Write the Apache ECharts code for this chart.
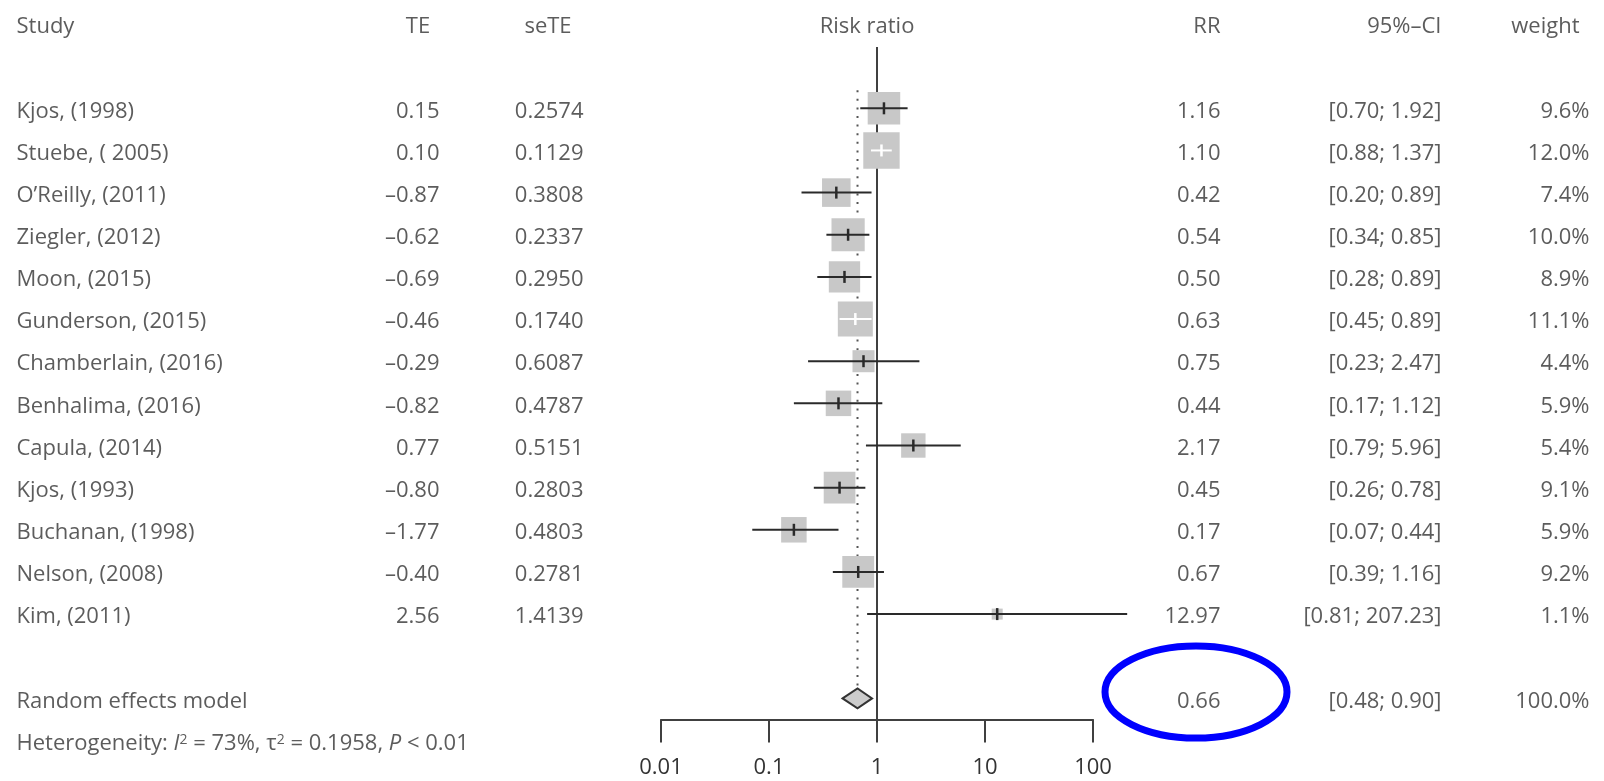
<!DOCTYPE html>
<html>
<head>
<meta charset="utf-8">
<script src="https://cdn.jsdelivr.net/npm/echarts@6/dist/echarts.min.js"></script>
<style>
html,body{margin:0;padding:0;background:#ffffff;}
#c{width:1604px;height:781px;}
</style>
</head>
<body>
<div id="c"></div>
<script>
// ---------------- data ----------------
const studies = ["Kjos, (1998)", "Stuebe, ( 2005)", "O\u2019Reilly, (2011)", "Ziegler, (2012)", "Moon, (2015)",
  "Gunderson, (2015)", "Chamberlain, (2016)", "Benhalima, (2016)", "Capula, (2014)", "Kjos, (1993)",
  "Buchanan, (1998)", "Nelson, (2008)", "Kim, (2011)"];
const TE = [0.15, 0.10, -0.87, -0.62, -0.69, -0.46, -0.29, -0.82, 0.77, -0.80, -1.77, -0.40, 2.56];
const seTE = [0.2574, 0.1129, 0.3808, 0.2337, 0.2950, 0.1740, 0.6087, 0.4787, 0.5151, 0.2803, 0.4803, 0.2781, 1.4139];
const RR = [1.16, 1.10, 0.42, 0.54, 0.50, 0.63, 0.75, 0.44, 2.17, 0.45, 0.17, 0.67, 12.97];
const ciLow = [0.70, 0.88, 0.20, 0.34, 0.28, 0.45, 0.23, 0.17, 0.79, 0.26, 0.07, 0.39, 0.81];
const ciHigh = [1.92, 1.37, 0.89, 0.85, 0.89, 0.89, 2.47, 1.12, 5.96, 0.78, 0.44, 1.16, 207.23];
const weight = [9.6, 12.0, 7.4, 10.0, 8.9, 11.1, 4.4, 5.9, 5.4, 9.1, 5.9, 9.2, 1.1];

const pooledLabel = "Random effects model";
const pooledRR = 0.66;
const pooledLow = 0.48;
const pooledHigh = 0.90;
const pooledWeight = 100.0;

const hetI2 = "73%";
const hetTau2 = "0.1958";
const hetP = "< 0.01";

const tickValues = [0.01, 0.1, 1, 10, 100];
const tickLabels = ["0.01", "0.1", "1", "10", "100"];

const headerStudy = "Study", headerTE = "TE", headerSeTE = "seTE", headerPlot = "Risk ratio",
      headerRR = "RR", headerCI = "95%\u2013CI", headerW = "weight";

// ---------------- layout ----------------
const ROW0 = 24, ROW = 42.15;         // pixel y of row 0 and row pitch
const FIRST = 2;                      // first study row
const POOLROW = FIRST + studies.length + 1;
const HETROW = POOLROW + 1;
const FONT = "Open Sans";
const FS = 22;
const TXT = "#333333";
const BOX_K = 10.5;

const colStudyX = 16, colTEX = 440, colTEhX = 418, colSeX = 584, colSehX = 548,
      colPlotHX = 867, colRRX = 1221, colCIX = 1442, colWX = 1590, colWhX = 1580;

function fmt(v, d) { return v.toFixed(d).replace("-", "\u2013"); }

// table texts
const leftText = [[colStudyX, 0, headerStudy]];
studies.forEach((s, i) => leftText.push([colStudyX, FIRST + i, s]));
leftText.push([colStudyX, POOLROW, pooledLabel]);

const hetText = [[colStudyX, HETROW, "Heterogeneity: {i|I}{s|2} = " + hetI2 + ", \u03c4{s|2} = " + hetTau2 + ", {i|P} " + hetP]];

const centerText = [[colTEhX, 0, headerTE], [colSehX, 0, headerSeTE], [colPlotHX, 0, headerPlot]];

const rightText = [[colRRX, 0, headerRR], [colCIX, 0, headerCI], [colWhX, 0, headerW]];
studies.forEach((s, i) => {
  const r = FIRST + i;
  rightText.push([colTEX, r, fmt(TE[i], 2)]);
  rightText.push([colSeX, r, seTE[i].toFixed(4)]);
  rightText.push([colRRX, r, RR[i].toFixed(2)]);
  rightText.push([colCIX, r, "[" + ciLow[i].toFixed(2) + "; " + ciHigh[i].toFixed(2) + "]"]);
  rightText.push([colWX, r, weight[i].toFixed(1) + "%"]);
});
rightText.push([colRRX, POOLROW, pooledRR.toFixed(2)]);
rightText.push([colCIX, POOLROW, "[" + pooledLow.toFixed(2) + "; " + pooledHigh.toFixed(2) + "]"]);
rightText.push([colWX, POOLROW, pooledWeight.toFixed(1) + "%"]);

const studyData = studies.map((s, i) => [FIRST + i, RR[i], ciLow[i], ciHigh[i], weight[i]]);

function textSeries(data, position, extra) {
  return Object.assign({
    type: "scatter", xAxisIndex: 1, yAxisIndex: 1, data: data, symbolSize: 1,
    itemStyle: { color: "rgba(0,0,0,0)" }, silent: true, clip: false, z: 5,
    label: {
      show: true, position: position, distance: 0, offset: [0, 3], color: TXT, fontFamily: FONT, fontSize: FS,
      formatter: p => p.data[2]
    }
  }, extra || {});
}

const chart = echarts.init(document.getElementById("c"), null, { renderer: "canvas" });

const plotTop = ROW0 - 0.5 * ROW;

chart.setOption({
  animation: false,
  backgroundColor: "#ffffff",
  grid: [
    { left: 661, width: 432, top: plotTop, height: 17 * ROW },
    { left: 0, width: 1604, top: plotTop, height: 18 * ROW }
  ],
  xAxis: [
    {
      gridIndex: 0, type: "log", logBase: 10, min: 0.01, max: 100, position: "bottom",
      axisLine: { show: true, onZero: false, lineStyle: { color: "#404040", width: 2 } },
      axisTick: { show: true, length: 23, inside: false, lineStyle: { color: "#404040", width: 2 } },
      minorTick: { show: false },
      splitLine: { show: false },
      axisLabel: {
        show: true, margin: 37, color: TXT, fontFamily: FONT, fontSize: FS,
        formatter: v => { const k = tickValues.findIndex(t => Math.abs(Math.log10(t) - Math.log10(v)) < 1e-6); return k >= 0 ? tickLabels[k] : ""; }
      }
    },
    { gridIndex: 1, type: "value", min: 0, max: 1604, show: false }
  ],
  yAxis: [
    { gridIndex: 0, type: "value", inverse: true, min: -0.5, max: 16.5, show: false },
    { gridIndex: 1, type: "value", inverse: true, min: -0.5, max: 17.5, show: false }
  ],
  series: [
    // reference lines (null effect and pooled estimate)
    {
      type: "custom", xAxisIndex: 0, yAxisIndex: 0, z: 1, silent: true,
      data: [[1, pooledRR]],
      encode: { x: [0, 1] },
      renderItem: function (params, api) {
        const a = api.coord([api.value(0), 0.546]);
        const b = api.coord([api.value(0), 16.5]);
        const c = api.coord([api.value(1), 1.57]);
        const d = api.coord([api.value(1), POOLROW - 0.25]);
        return {
          type: "group", children: [
            { type: "line", shape: { x1: a[0], y1: a[1], x2: b[0], y2: b[1] }, style: { stroke: "#404040", lineWidth: 2 } },
            { type: "line", shape: { x1: c[0], y1: c[1], x2: d[0], y2: d[1] }, style: { stroke: "#555555", lineWidth: 2, lineDash: [2, 6.6] } }
          ]
        };
      }
    },
    // study boxes + CIs
    {
      type: "custom", xAxisIndex: 0, yAxisIndex: 0, z: 3, silent: true, clip: false,
      data: studyData,
      encode: { x: [1, 2, 3], y: 0 },
      renderItem: function (params, api) {
        const row = api.value(0), rr = api.value(1), lo = api.value(2), hi = api.value(3), w = api.value(4);
        const c = api.coord([rr, row]);
        const pl = api.coord([lo, row]);
        const ph = api.coord([hi, row]);
        const s = BOX_K * Math.sqrt(w);
        const inside = pl[0] >= c[0] - s / 2 && ph[0] <= c[0] + s / 2;
        const lc = inside ? "#ffffff" : "#2a2a2a";
        return {
          type: "group", children: [
            { type: "rect", shape: { x: c[0] - s / 2, y: c[1] - s / 2, width: s, height: s }, style: { fill: "#c8c8c8" } },
            { type: "line", shape: { x1: pl[0], y1: c[1], x2: ph[0], y2: c[1] }, style: { stroke: lc, lineWidth: 2 } },
            { type: "line", shape: { x1: c[0], y1: c[1] - 6, x2: c[0], y2: c[1] + 6 }, style: { stroke: lc, lineWidth: 2.5 } }
          ]
        };
      }
    },
    // pooled diamond
    {
      type: "custom", xAxisIndex: 0, yAxisIndex: 0, z: 3, silent: true,
      data: [[POOLROW, pooledRR, pooledLow, pooledHigh]],
      encode: { x: [1, 2, 3], y: 0 },
      renderItem: function (params, api) {
        const row = api.value(0);
        const c = api.coord([api.value(1), row]);
        const l = api.coord([api.value(2), row]);
        const h = api.coord([api.value(3), row]);
        const hh = 10;
        return {
          type: "polygon",
          shape: { points: [[l[0], c[1]], [c[0], c[1] - hh], [h[0], c[1]], [c[0], c[1] + hh]] },
          style: { fill: "#cccccc", stroke: "#333333", lineWidth: 2 }
        };
      }
    },
    textSeries(leftText, "right"),
    textSeries(rightText, "left"),
    textSeries(centerText, "inside"),
    textSeries(hetText, "right", {
      label: {
        show: true, position: "right", distance: 0, offset: [0, 3], color: TXT, fontFamily: FONT, fontSize: FS,
        formatter: p => p.data[2],
        rich: {
          i: { fontStyle: "italic", fontFamily: FONT, fontSize: FS, color: TXT },
          s: { fontSize: 14, fontFamily: FONT, color: TXT, verticalAlign: "top", lineHeight: 14, padding: [0, 0, 0, 0] }
        }
      }
    })
  ],
  graphic: [
    { type: "ellipse", shape: { cx: 1196, cy: 692, rx: 91, ry: 46 }, style: { fill: "none", stroke: "#0000ff", lineWidth: 7 }, z: 100 }
  ]
});
</script>
</body>
</html>
